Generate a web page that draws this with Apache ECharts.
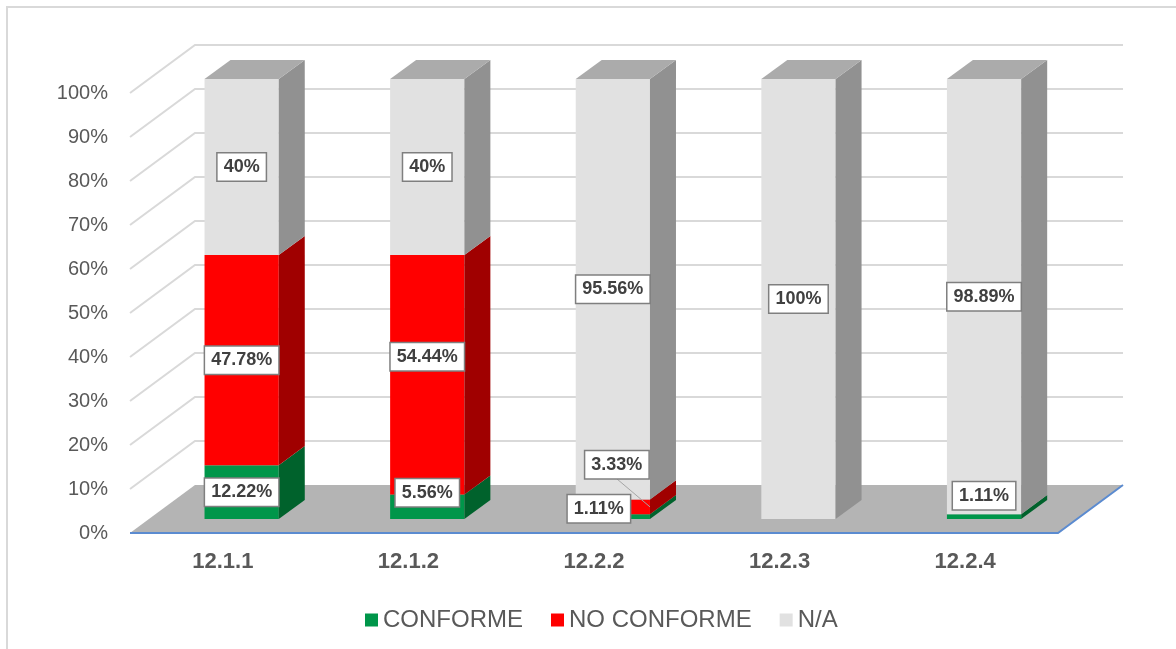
<!DOCTYPE html>
<html>
<head>
<meta charset="utf-8">
<script src="https://cdn.jsdelivr.net/npm/echarts@6/dist/echarts.min.js"></script>
<style>
  html, body { margin: 0; padding: 0; background: #fff; }
  #chart { width: 1176px; height: 649px; }
</style>
</head>
<body>
<div id="chart"></div>
<script>
const categories = ['12.1.1', '12.1.2', '12.2.2', '12.2.3', '12.2.4'];
const conforme = [12.22, 5.56, 1.11, 0, 1.11];
const noConforme = [47.78, 54.44, 3.33, 0, 0];
const noAplica = [40, 40, 95.56, 100, 98.89];
const seriesNames = ['CONFORME', 'NO CONFORME', 'N/A'];
const yTicks = [0, 10, 20, 30, 40, 50, 60, 70, 80, 90, 100];

const FONT = '"Liberation Sans", Arial, sans-serif';
// fake 3d: full floor depth in px, bars sit between BAR_FRONT and BAR_BACK of it
const DEPTH_X = 65, DEPTH_Y = -48;
const BAR_FRONT = 0.29, BAR_BACK = 0.69;
const BAR_FRAC = 0.4;

const faceColors = [
  { front: '#00964a', side: '#00622c', top: '#00964a' },
  { front: '#ff0000', side: '#a00000', top: '#ff0000' },
  { front: '#e1e1e1', side: '#919191', top: '#ababab' }
];

// labels that were dragged by hand in the original (px), key = series-category
const labelNudge = {
  '0-1': [0, -14],
  '1-1': [0, -18],
  '0-2': [-14, -8],
  '1-2': [4, -42],
  '0-4': [0, -21]
};
const leaderLines = ['1-2'];

const allSeries = [conforme, noConforme, noAplica];

// [cat, lo, hi, isTop, value]
function segments(s) {
  return categories.map(function (c, i) {
    let lo = 0, total = 0;
    for (let k = 0; k < s; k++) lo += allSeries[k][i];
    for (let k = 0; k < allSeries.length; k++) total += allSeries[k][i];
    const hi = lo + allSeries[s][i];
    return [i, lo, hi, Math.abs(hi - total) < 1e-6 ? 1 : 0, allSeries[s][i]];
  });
}

function barBox(api, i, lo, hi) {
  const bw = api.size([1, 0])[0] * BAR_FRAC;
  const cx = api.coord([i, 0])[0];
  const ox = DEPTH_X * BAR_FRONT, oy = DEPTH_Y * BAR_FRONT;
  return {
    x0: cx - bw / 2 + ox,
    x1: cx + bw / 2 + ox,
    yb: api.coord([i, lo])[1] + oy,
    yt: api.coord([i, hi])[1] + oy
  };
}

function renderBar(s) {
  const col = faceColors[s];
  return function (params, api) {
    const i = api.value(0), lo = api.value(1), hi = api.value(2), isTop = api.value(3);
    if (hi - lo <= 0) return null;
    const b = barBox(api, i, lo, hi);
    const dx = DEPTH_X * (BAR_BACK - BAR_FRONT), dy = DEPTH_Y * (BAR_BACK - BAR_FRONT);
    const children = [
      { type: 'polygon', shape: { points: [[b.x0, b.yb], [b.x1, b.yb], [b.x1, b.yt], [b.x0, b.yt]] }, style: { fill: col.front } },
      { type: 'polygon', shape: { points: [[b.x1, b.yb], [b.x1 + dx, b.yb + dy], [b.x1 + dx, b.yt + dy], [b.x1, b.yt]] }, style: { fill: col.side } }
    ];
    if (isTop) {
      children.push({ type: 'polygon', shape: { points: [[b.x0, b.yt], [b.x1, b.yt], [b.x1 + dx, b.yt + dy], [b.x0 + dx, b.yt + dy]] }, style: { fill: col.top } });
    }
    return { type: 'group', children: children };
  };
}

function renderLabel(params, api) {
  const i = api.value(0), lo = api.value(1), hi = api.value(2), s = api.value(3), v = api.value(4);
  const b = barBox(api, i, lo, hi);
  const key = s + '-' + i;
  const nudge = labelNudge[key] || [0, 0];
  const lx = (b.x0 + b.x1) / 2 + nudge[0];
  const ly = (b.yb + b.yt) / 2 + nudge[1];
  const children = [];
  if (leaderLines.indexOf(key) >= 0) {
    children.push({
      type: 'line',
      shape: { x1: lx, y1: ly + 14, x2: b.x1, y2: (b.yb + b.yt) / 2 },
      style: { stroke: '#a6a6a6', lineWidth: 1 }
    });
  }
  children.push({
    type: 'text',
    x: lx, y: ly,
    style: {
      text: v + '%',
      font: 'bold 18px ' + FONT,
      fill: '#404040',
      align: 'center',
      verticalAlign: 'middle',
      backgroundColor: '#ffffff',
      borderColor: '#7f7f7f',
      borderWidth: 1.5,
      padding: [5, 6, 4, 6]
    }
  });
  return { type: 'group', children: children };
}

const labelData = [];
allSeries.forEach(function (arr, s) {
  segments(s).forEach(function (d) {
    if (d[4] > 0) labelData.push([d[0], d[1], d[2], s, d[4]]);
  });
});

const chart = echarts.init(document.getElementById('chart'), null, { renderer: 'canvas' });

const option = {
  animation: false,
  backgroundColor: '#ffffff',
  graphic: [{
    type: 'rect',
    shape: { x: 7, y: 7, width: 1190, height: 670 },
    style: { fill: 'none', stroke: '#d9d9d9', lineWidth: 2 },
    silent: true
  }],
  grid: { left: 130, right: 118, top: 93, bottom: 116, containLabel: false },
  legend: {
    data: seriesNames,
    left: 360,
    top: 603,
    icon: 'rect',
    itemWidth: 13,
    itemHeight: 13,
    itemGap: 28,
    textStyle: { fontSize: 24, color: '#595959', fontFamily: FONT }
  },
  xAxis: {
    type: 'category',
    data: categories,
    axisLine: { show: false },
    axisTick: { show: false },
    axisLabel: { fontSize: 22, fontWeight: 'bold', color: '#595959', fontFamily: FONT, margin: 18 }
  },
  yAxis: {
    type: 'value',
    min: 0,
    max: 100,
    interval: 10,
    axisLine: { show: false },
    axisTick: { show: false },
    splitLine: { show: false },
    axisLabel: { formatter: '{value}%', fontSize: 20, color: '#595959', fontFamily: FONT, margin: 22 }
  },
  series: [
    {
      name: 'walls',
      type: 'custom',
      silent: true,
      z: 1,
      data: yTicks.filter(function (v) { return v > 0; }).map(function (v) { return [0, v]; }),
      renderItem: function (params, api) {
        const cs = params.coordSys;
        const y = api.coord([0, api.value(1)])[1];
        return {
          type: 'polyline',
          shape: { points: [[cs.x, y], [cs.x + DEPTH_X, y + DEPTH_Y], [cs.x + cs.width + DEPTH_X, y + DEPTH_Y]] },
          style: { stroke: '#d9d9d9', lineWidth: 2, fill: null }
        };
      }
    },
    {
      name: 'floor',
      type: 'custom',
      silent: true,
      z: 1,
      data: [[0, 0]],
      renderItem: function (params, api) {
        const cs = params.coordSys;
        const yb = api.coord([0, 0])[1];
        const l = cs.x, r = cs.x + cs.width;
        return {
          type: 'group',
          children: [
            { type: 'polygon', shape: { points: [[l, yb], [l + DEPTH_X, yb + DEPTH_Y], [r + DEPTH_X, yb + DEPTH_Y], [r, yb]] }, style: { fill: '#b4b4b4' } },
            { type: 'polyline', shape: { points: [[l, yb], [r, yb], [r + DEPTH_X, yb + DEPTH_Y]] }, style: { stroke: '#5b8bd0', lineWidth: 2, fill: null } }
          ]
        };
      }
    }
  ].concat(seriesNames.map(function (name, s) {
    return {
      name: name,
      type: 'custom',
      z: 2,
      itemStyle: { color: faceColors[s].front },
      data: segments(s),
      renderItem: renderBar(s)
    };
  })).concat([{
    name: 'labels',
    type: 'custom',
    silent: true,
    z: 5,
    data: labelData,
    renderItem: renderLabel
  }])
};

chart.setOption(option);
window.addEventListener('resize', function () {
  chart.resize();
});
</script>
</body>
</html>
